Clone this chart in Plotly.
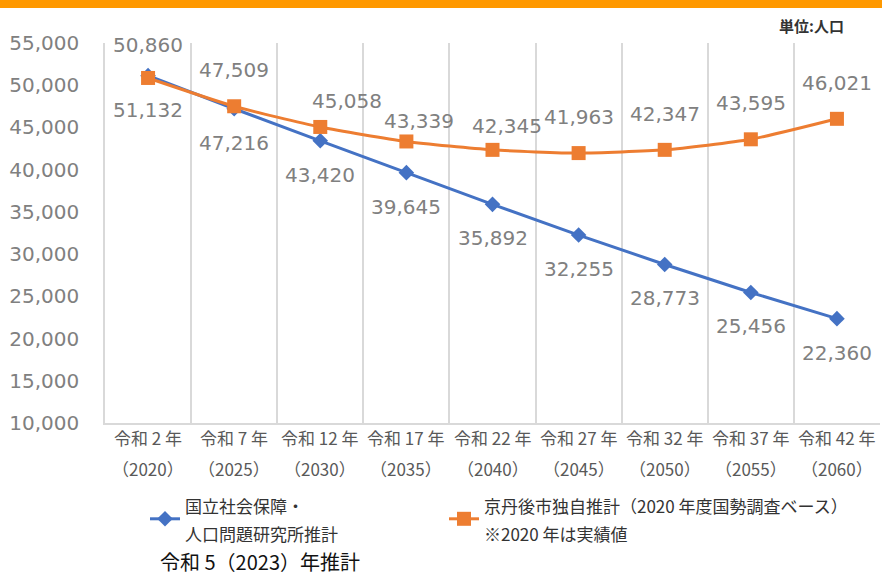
import plotly.graph_objects as go

# ---- data ----
categories = ["令和 2 年", "令和 7 年", "令和 12 年", "令和 17 年", "令和 22 年",
              "令和 27 年", "令和 32 年", "令和 37 年", "令和 42 年"]
years = ["（2020）", "（2025）", "（2030）", "（2035）", "（2040）",
         "（2045）", "（2050）", "（2055）", "（2060）"]
ipss_values = [51132, 47216, 43420, 39645, 35892, 32255, 28773, 25456, 22360]
city_values = [50860, 47509, 45058, 43339, 42345, 41963, 42347, 43595, 46021]
ytick_values = [10000, 15000, 20000, 25000, 30000, 35000, 40000, 45000, 50000, 55000]
ytick_labels = ["10,000", "15,000", "20,000", "25,000", "30,000",
                "35,000", "40,000", "45,000", "50,000", "55,000"]

ipss_name_lines = ["国立社会保障・", "人口問題研究所推計"]
city_name_lines = ["京丹後市独自推計（2020 年度国勢調査ベース）", "※2020 年は実績値"]
unit_text = "単位:人口"
note_text = "令和 5（2023）年推計"

# ---- style / layout helpers ----
BLUE = "#4472C4"
ORANGE = "#ED7D31"
LABEL_GREY = "#808080"
GRID = "#d9d9d9"
NUM_FONT = "DejaVu Sans, Roboto, sans-serif"
JP_FONT = "Noto Sans CJK JP, sans-serif"
city_label_dx = [0, 0, 27, 13, 14, 0, 0, 0, 0]
city_label_dy = [33, 36, 26, 20, 24, 36, 36, 36, 36]

W, H = 890, 577
ML, MR, MT, MB = 105, 10, 43, 154
PW, PH = W - ML - MR, H - MT - MB


def px(xpix):
    return (xpix - ML) / PW


def py(ypix):
    return (H - MB - ypix) / PH


def legend_name(lines):
    return "<br>".join('<span style="font-size:17px">%s</span>' % s for s in lines)


fig = go.Figure()
fig.add_trace(go.Scatter(
    x=categories, y=ipss_values, name=legend_name(ipss_name_lines),
    mode="lines+markers",
    line=dict(color=BLUE, width=3),
    marker=dict(symbol="diamond", size=12, color=BLUE),
    legend="legend",
))
fig.add_trace(go.Scatter(
    x=categories, y=city_values, name=legend_name(city_name_lines),
    mode="lines+markers",
    line=dict(color=ORANGE, width=3, shape="spline", smoothing=0.6),
    marker=dict(symbol="square", size=14, color=ORANGE),
    legend="legend2",
))

annotations = []
for c, v in zip(categories, ipss_values):
    annotations.append(dict(x=c, y=v, xref="x", yref="y", text=f"{v:,}",
                            showarrow=False, yshift=-34,
                            font=dict(family=NUM_FONT, size=20, color=LABEL_GREY)))
for c, v, dx, dy in zip(categories, city_values, city_label_dx, city_label_dy):
    annotations.append(dict(x=c, y=v, xref="x", yref="y", text=f"{v:,}",
                            showarrow=False, yshift=dy, xshift=dx,
                            font=dict(family=NUM_FONT, size=20, color=LABEL_GREY)))
for c, yr in zip(categories, years):
    annotations.append(dict(x=c, y=0, xref="x", yref="paper", text=c,
                            showarrow=False, yanchor="middle", yshift=-14,
                            font=dict(family=JP_FONT, size=17, color="#595959")))
    annotations.append(dict(x=c, y=0, xref="x", yref="paper", text=yr,
                            showarrow=False, yanchor="middle", yshift=-45,
                            font=dict(family=JP_FONT, size=17, color="#595959")))
annotations.append(dict(xref="paper", yref="paper", x=px(846), y=py(25),
                        xanchor="right", yanchor="middle", text="<b>%s</b>" % unit_text,
                        showarrow=False,
                        font=dict(family=JP_FONT, size=15, color="#333333")))
annotations.append(dict(xref="paper", yref="paper", x=px(158), y=py(561),
                        xanchor="left", yanchor="middle", text=note_text,
                        showarrow=False,
                        font=dict(family=JP_FONT, size=20, color="#111111")))

legend_common = dict(orientation="h", xanchor="left", yanchor="top",
                     font=dict(family=JP_FONT, size=21, color="#333333"),
                     bgcolor="rgba(0,0,0,0)")

fig.update_layout(
    width=W, height=H,
    margin=dict(l=ML, r=MR, t=MT, b=MB, autoexpand=False),
    paper_bgcolor="white", plot_bgcolor="white",
    annotations=annotations,
    showlegend=True,
    legend=dict(x=px(145), y=py(485), **legend_common),
    legend2=dict(x=px(444), y=py(485), **legend_common),
    shapes=[dict(type="rect", xref="paper", yref="paper",
                 x0=px(0), x1=px(882), y0=py(8), y1=py(-2),
                 fillcolor="#FF9900", line=dict(width=0), layer="above")],
    xaxis=dict(type="category", tickson="boundaries", showgrid=True,
               gridcolor=GRID, gridwidth=1.5, showticklabels=False,
               showline=True, linecolor=GRID, linewidth=1.5, ticks="",
               range=[-0.5, 8.5], fixedrange=True),
    yaxis=dict(range=[10000, 55000], tickvals=ytick_values, ticktext=ytick_labels,
               showgrid=False, zeroline=False, showline=True, linecolor=GRID,
               linewidth=1.5, ticks="", ticklabelstandoff=20, fixedrange=True,
               tickfont=dict(family=NUM_FONT, size=20, color=LABEL_GREY)),
)

fig.write_html("out.html",
               config={"displayModeBar": False, "staticPlot": False},
               post_script="document.body.style.margin='0px';"
                           "document.body.style.overflow='hidden';")
